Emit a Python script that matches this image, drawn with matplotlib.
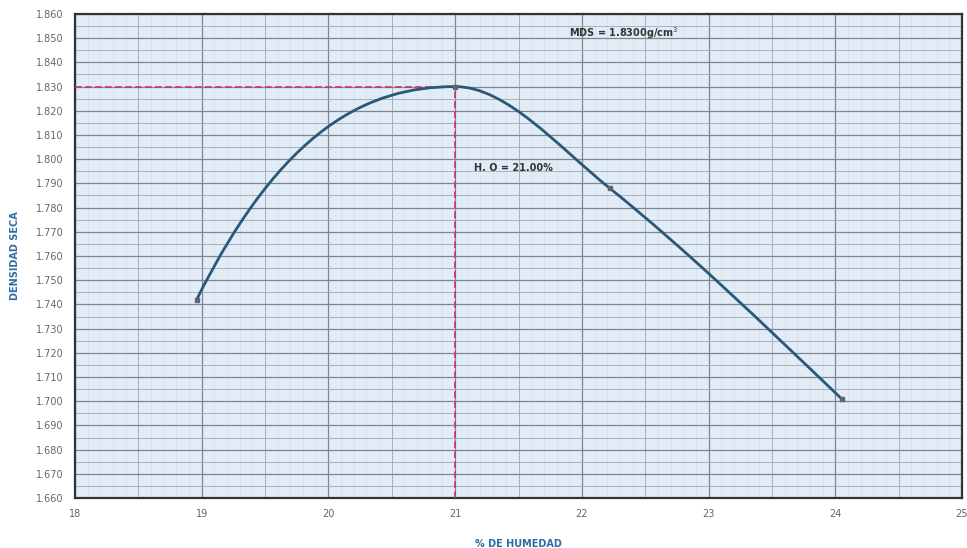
import numpy as np
import matplotlib.pyplot as plt
from matplotlib.path import Path
from matplotlib.patches import PathPatch

# puntos del ensayo proctor (humedad %, densidad seca g/cm3)
humedad = [18.96, 21.00, 22.22, 24.05]
densidad = [1.742, 1.830, 1.788, 1.701]
# pendiente de la curva suavizada en cada punto
pendiente = [0.105, 0.0, -0.042, -0.050]

# valores optimos
hum_opt = 21.00
mds = 1.830

x_ticks = [18, 19, 20, 21, 22, 23, 24, 25]
y_ticks = [1.660, 1.670, 1.680, 1.690, 1.700, 1.710, 1.720, 1.730, 1.740, 1.750,
           1.760, 1.770, 1.780, 1.790, 1.800, 1.810, 1.820, 1.830, 1.840, 1.850, 1.860]

fig = plt.figure(figsize=(9.67, 5.48), dpi=100)
ax = fig.add_axes([0.0776, 0.0912, 0.9172, 0.8833])
ax.set_facecolor('#e2ecf6')

# curva suavizada: tramos bezier cubicos entre los puntos
verts = [(humedad[0], densidad[0])]
codes = [Path.MOVETO]
for i in range(len(humedad) - 1):
    d = (humedad[i + 1] - humedad[i]) / 3
    verts += [(humedad[i] + d, densidad[i] + d * pendiente[i]),
              (humedad[i + 1] - d, densidad[i + 1] - d * pendiente[i + 1]),
              (humedad[i + 1], densidad[i + 1])]
    codes += [Path.CURVE4] * 3
ax.add_patch(PathPatch(Path(verts, codes), fill=False, edgecolor='#2b5877', lw=2, zorder=4))
ax.plot(humedad, densidad, 's', color='#5a6670', ms=3, zorder=5)

# lineas de lectura del optimo
ax.plot([18, hum_opt], [mds, mds], color='#d0306a', lw=1.2, ls=(0, (4, 2)), zorder=3)
ax.plot([hum_opt, hum_opt], [1.660, mds], color='#d0306a', lw=1.2, ls=(0, (4, 2)), zorder=3)

ax.text(21.9, 1.8505, 'MDS = 1.8300g/cm$^3$', fontsize=7, fontweight='bold', color='#333333')
ax.text(21.15, 1.795, 'H. O = 21.00%', fontsize=7, fontweight='bold', color='#333333')

ax.set_xlim(18, 25)
ax.set_ylim(1.660, 1.860)
ax.set_xticks(x_ticks)
ax.set_xticklabels([str(t) for t in x_ticks])
ax.set_yticks(y_ticks)
ax.set_yticklabels(['%.3f' % t for t in y_ticks])
ax.set_xticks(np.arange(18, 25.01, 0.5), minor=True)
ax.set_yticks(np.arange(1.660, 1.8601, 0.005), minor=True)
ax.tick_params(which='both', length=0, labelsize=7, labelcolor='#666666', pad=8)

# lineas finas del papel milimetrado
for xv in np.arange(18, 25.01, 0.1):
    ax.axvline(xv, color='#d2dae3', lw=0.4, zorder=0.5)
ax.grid(which='major', axis='both', color='#7d8690', lw=0.9, zorder=1)
ax.grid(which='minor', axis='both', color='#a0a9b3', lw=0.6, zorder=1)
ax.set_axisbelow(True)

for s in ax.spines.values():
    s.set_color('#333333')
    s.set_linewidth(1.6)

ax.set_xlabel('% DE HUMEDAD', fontsize=7, fontweight='bold', color='#2e6da4', labelpad=14)
ax.set_ylabel('DENSIDAD SECA', fontsize=7, fontweight='bold', color='#2e6da4', labelpad=12)

fig.savefig('out.png', dpi=100)
